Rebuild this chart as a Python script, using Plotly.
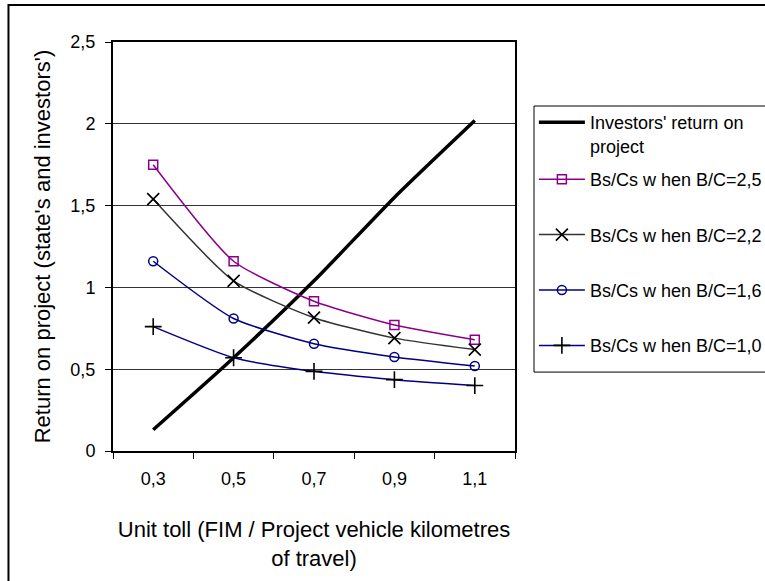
import plotly.graph_objects as go

# Unit toll categories (FIM per project vehicle-km)
tolls = ["0,3", "0,5", "0,7", "0,9", "1,1"]

# Return on project
investors_return = [0.13, 0.57, 1.04, 1.55, 2.02]
bc_25 = [1.75, 1.16, 0.915, 0.77, 0.68]
bc_22 = [1.54, 1.04, 0.815, 0.69, 0.62]
bc_16 = [1.16, 0.81, 0.656, 0.575, 0.52]
bc_10 = [0.76, 0.57, 0.487, 0.436, 0.40]

FONT = "Arial, 'Liberation Sans', sans-serif"
FS = 18

fig = go.Figure()

fig.add_trace(go.Scatter(
    x=tolls, y=investors_return, mode="lines",
    name="Investors' return on<br>project",
    line=dict(color="black", width=3.5, shape="spline", smoothing=0.6),
    legend="legend", legendgroup="inv",
))

series = [
    ("Bs/Cs w hen B/C=2,5", bc_25, "#8B008B", "#8B008B", "square-open", 9, 1.5),
    ("Bs/Cs w hen B/C=2,2", bc_22, "#333333", "black", "x-thin-open", 12, 1.6),
    ("Bs/Cs w hen B/C=1,6", bc_16, "#000080", "#000080", "circle-open", 9, 1.5),
    ("Bs/Cs w hen B/C=1,0", bc_10, "#000080", "black", "cross-thin-open", 12, 1.6),
]
for i, (name, vals, lc, mc, sym, ms, mw) in enumerate(series):
    fig.add_trace(go.Scatter(
        x=tolls, y=vals, mode="lines+markers", name=name,
        line=dict(color=lc, width=1.5, shape="spline", smoothing=0.6),
        marker=dict(symbol=sym, size=ms, color=mc, line=dict(color=mc, width=mw)),
        legend="legend2", legendgroup=f"g{i}",
    ))

# outer chart frame and legend box
fig.add_shape(type="rect", xref="paper", yref="paper",
              x0=-0.26, x1=1.8, y0=-0.45, y1=1.0905,
              line=dict(color="black", width=2), layer="below")
fig.add_shape(type="rect", xref="paper", yref="paper",
              x0=1.0473, x1=1.8, y0=0.193, y1=0.8435,
              line=dict(color="black", width=1), fillcolor="white", layer="below")

fig.update_layout(
    width=765, height=581,
    margin=dict(l=113, r=250, t=42, b=130, autoexpand=False),
    paper_bgcolor="white", plot_bgcolor="white",
    separators=", ",
    showlegend=True,
    font=dict(family=FONT, size=FS, color="black"),
    legend=dict(
        x=1.047, y=0.848, xanchor="left", yanchor="top",
        bgcolor="rgba(0,0,0,0)", borderwidth=0, valign="top",
        font=dict(size=FS), itemwidth=46,
    ),
    legend2=dict(
        x=1.047, y=0.709, xanchor="left", yanchor="top",
        bgcolor="rgba(0,0,0,0)", borderwidth=0,
        font=dict(size=FS), tracegroupgap=29, itemwidth=46,
    ),
    xaxis=dict(
        type="category", range=[-0.5, 4.5],
        tickson="boundaries", ticks="outside", ticklen=6, tickcolor="black",
        showline=True, linecolor="black", linewidth=2, mirror=True,
        showgrid=False, zeroline=False,
        ticklabelstandoff=10,
        title=dict(text="Unit toll (FIM / Project vehicle kilometres<br>of travel)",
                   standoff=34),
    ),
    yaxis=dict(
        range=[0, 2.5], dtick=0.5,
        ticks="outside", ticklen=6, tickcolor="black",
        showline=True, linecolor="black", linewidth=2, mirror=True,
        showgrid=True, gridcolor="#333333", gridwidth=1, zeroline=False,
        ticklabelstandoff=6,
        title=dict(text="Return on project (state's and investors')", standoff=14),
    ),
)

fig.write_html("out.html")
